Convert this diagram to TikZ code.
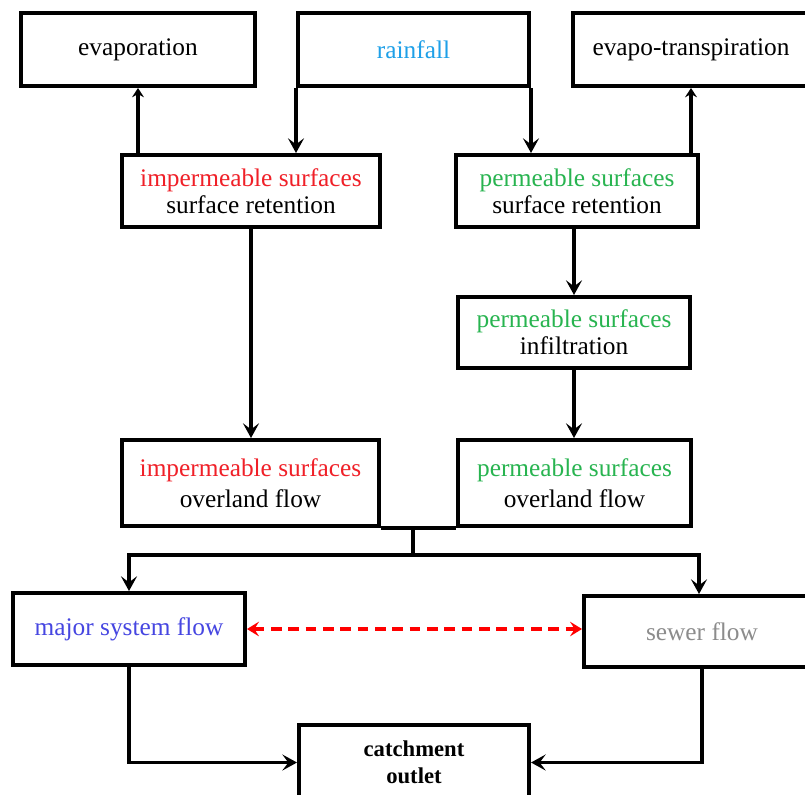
\documentclass[tikz,border=0pt]{standalone}
\usepackage{fontspec}
\setmainfont{Liberation Serif}
\usetikzlibrary{arrows.meta,calc}

\definecolor{rainblue}{RGB}{30,160,232}
\definecolor{imperred}{RGB}{240,32,40}
\definecolor{permgreen}{RGB}{40,180,80}
\definecolor{majorblue}{RGB}{70,70,225}
\definecolor{sewergray}{RGB}{140,140,140}

\begin{document}
\begin{tikzpicture}[x=0.75pt,y=-0.75pt,
  box/.style={draw=black,line width=3pt,fill=white,rectangle,inner sep=0pt,
    align=center,font=\fontsize{19}{20.5}\selectfont},
  flow/.style={line width=2.8pt,-{Stealth[length=11pt,width=12pt,inset=4.5pt]}},
  upflow/.style={line width=2.8pt,-{Stealth[length=7pt,width=9pt,inset=2.5pt]}},
  link/.style={line width=2.8pt},
  exchange/.style={line width=2.6pt,draw=red,dash pattern=on 8pt off 5pt,
    {Stealth[length=9pt,width=11pt,inset=3.5pt]}-{Stealth[length=9pt,width=11pt,inset=3.5pt]}}]

  % canvas
  \fill[white] (0,0) rectangle (805,794);
  \useasboundingbox (0,0) rectangle (805,794);

  % top row
  \node[box,minimum width=234*0.75pt,minimum height=73*0.75pt] (evap) at (138,49.5) {evaporation};
  \node[box,minimum width=231*0.75pt,minimum height=73*0.75pt] (rain) at (413.5,49.5) {\textcolor{rainblue}{rainfall}};
  \node[box,minimum width=236*0.75pt,minimum height=73*0.75pt] (evt) at (691,49.5) {evapo-transpiration};

  % surface retention
  \node[box,minimum width=258*0.75pt,minimum height=72*0.75pt] (imret) at (251,191)
    {\textcolor{imperred}{impermeable surfaces}\\surface retention};
  \node[box,minimum width=242*0.75pt,minimum height=72*0.75pt] (pret) at (577,191)
    {\textcolor{permgreen}{permeable surfaces}\\surface retention};

  % infiltration
  \node[box,minimum width=232*0.75pt,minimum height=71*0.75pt] (pinf) at (574,332.5)
    {\textcolor{permgreen}{permeable surfaces}\\infiltration};

  % overland flow
  \node[box,minimum width=257*0.75pt,minimum height=86*0.75pt] (imov) at (250.5,483)
    {\textcolor{imperred}{impermeable surfaces}\\[3pt]overland flow};
  \node[box,minimum width=233*0.75pt,minimum height=86*0.75pt] (pov) at (574.5,483)
    {\textcolor{permgreen}{permeable surfaces}\\[3pt]overland flow};

  % conveyance
  \node[box,minimum width=232*0.75pt,minimum height=72*0.75pt] (major) at (129,629)
    {\textcolor{majorblue}{major system flow}};
  \node[box,minimum width=236*0.75pt,minimum height=71*0.75pt] (sewer) at (702,631.5)
    {\textcolor{sewergray}{sewer flow}};

  % outlet
  \node[box,minimum width=230*0.75pt,minimum height=75*0.75pt,
    font=\fontsize{17}{20}\selectfont\bfseries] (outlet) at (414,762.5)
    {catchment\\outlet};

  % rainfall onto the surfaces
  \draw[flow] (rain.south west) -- (rain.south west |- imret.north);
  \draw[flow] (rain.south east) -- (rain.south east |- pret.north);

  % losses to the atmosphere
  \draw[upflow] (evap.south |- imret.north) -- (evap.south);
  \draw[upflow] (evt.south |- pret.north) -- (evt.south);

  % surface paths
  \draw[flow] (imret.south) -- (imret.south |- imov.north);
  \draw[flow] (pinf.north |- pret.south) -- (pinf.north);
  \draw[flow] (pinf.south) -- (pinf.south |- pov.north);

  % combined overland flow split to the two systems
  \coordinate (split) at (413,555);
  \coordinate (lbend) at (major.north |- split);
  \coordinate (rbend) at (699,555);
  \draw[link] (imov.south east) -- (pov.south west);
  \draw[link] (split |- imov.south) -- (split);
  \draw[link,line cap=rect] (lbend) -- (rbend);
  \draw[flow] (lbend) -- (major.north);
  \draw[flow] (rbend) -- (rbend |- sewer.north);

  % interaction between major system and sewer
  \draw[exchange] (major.east) -- (major.east -| sewer.west);

  % to the outlet
  \draw[flow] (major.south) |- (outlet.west);
  \draw[flow] (sewer.south) |- (outlet.east);
\end{tikzpicture}
\end{document}
